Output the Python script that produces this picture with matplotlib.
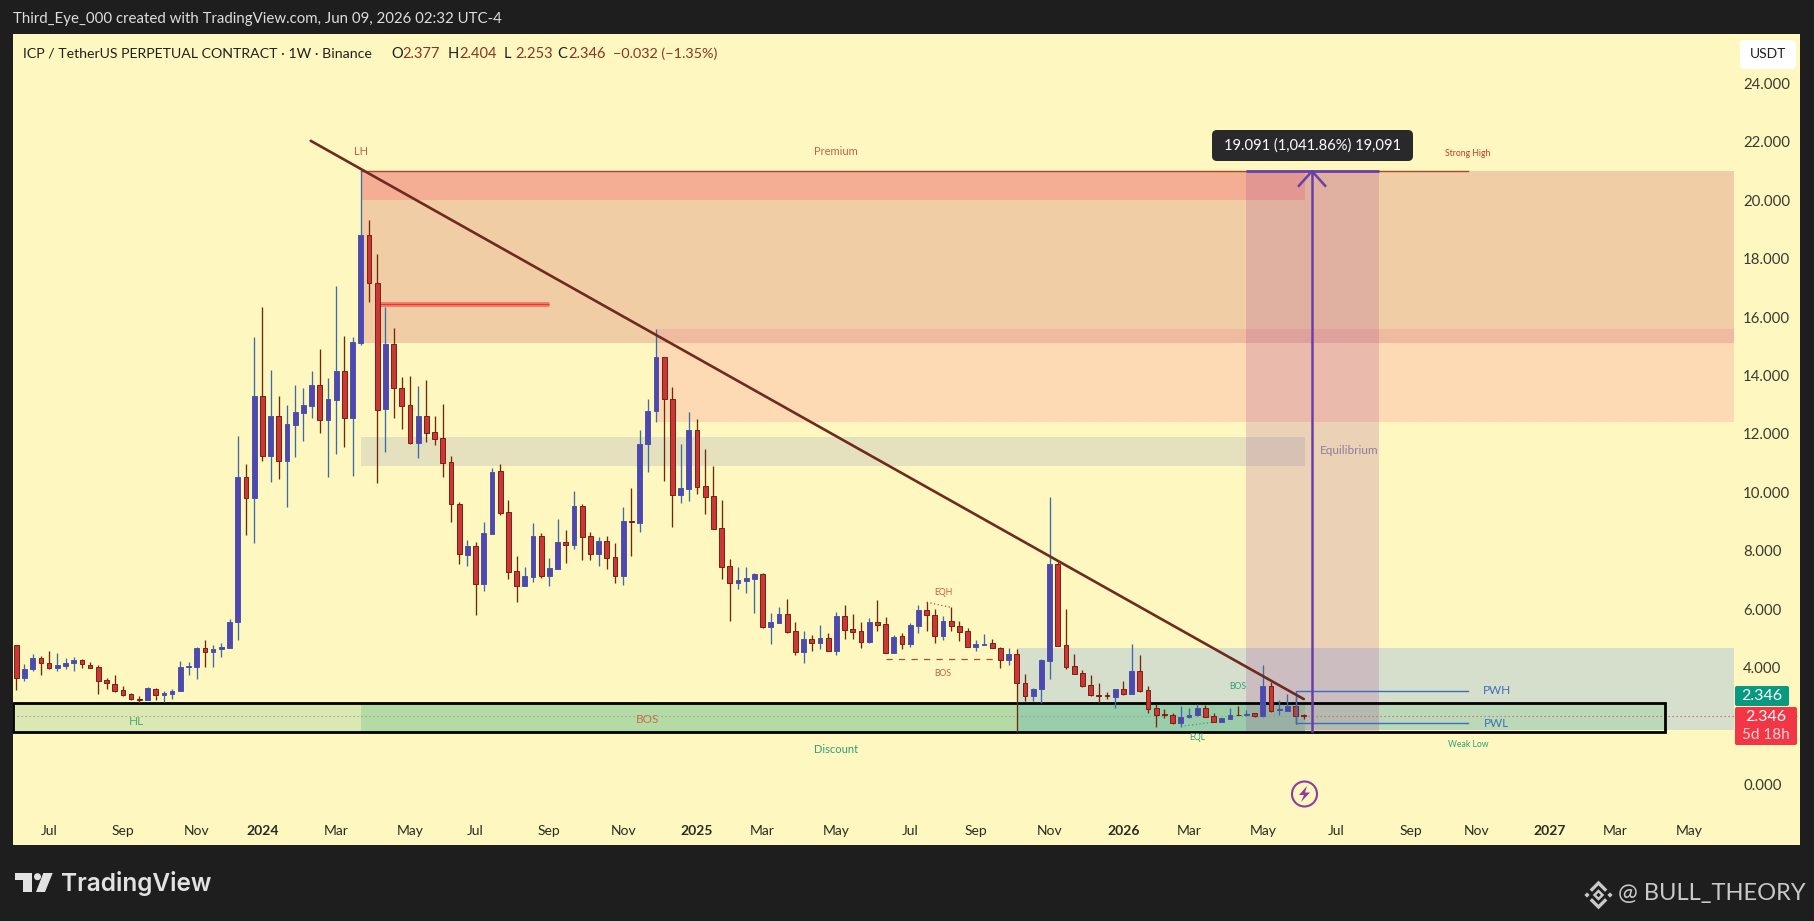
import matplotlib
matplotlib.use("Agg")
import matplotlib.pyplot as plt
from matplotlib.patches import FancyBboxPatch, Polygon, Circle, Rectangle

plt.rcParams['font.family'] = ['Lato', 'DejaVu Sans']

# ---------- candle data (prices, USDT) ----------
directions = ("RBBRRBBBRR" "RRRRRRBRBB" "BBBRBBBBRB" "RBRBBBBRBB" "RBBRRBRRRB" "RRRRRBRBBR"
              "RRBBRBBRBR" "RBRRBRBBBR" "RBBRRRRRBB" "BRBBRRBRBR" "BRRRBRRBRB" "BRRBRRRBBR"
              "RBRRBBBRRR" "RRRRBRBRRR" "RRBBBRRBBR" "BRBRBBRR")
highs = [4.77,4.14,4.46,4.40,4.57,4.49,4.32,4.37,4.28,4.20,
         4.10,3.66,3.74,3.37,3.12,3.03,3.32,3.31,3.21,3.27,
         4.22,4.20,4.71,4.94,4.77,4.85,5.65,11.93,10.97,15.31,
         16.35,14.19,13.30,12.99,13.68,13.56,14.16,14.91,13.90,17.07,
         15.35,15.31,21.02,19.33,18.16,16.36,15.62,13.94,13.98,13.64,
         13.85,12.61,13.03,11.24,9.68,8.37,8.31,9.00,10.82,10.97,
         9.74,7.82,7.46,8.94,8.62,7.74,9.09,8.71,10.05,9.60,
         8.63,8.46,8.51,8.26,9.51,10.14,12.14,13.20,15.60,14.62,
         13.60,11.66,12.75,12.50,11.48,10.92,9.74,7.71,7.46,7.46,
         7.25,7.23,5.88,6.06,6.35,5.56,5.27,5.12,5.46,5.20,
         5.92,6.14,5.84,5.56,5.69,6.32,5.72,5.12,5.17,5.53,
         6.16,6.24,5.99,5.76,6.06,5.59,5.34,4.94,5.15,4.97,
         4.69,4.68,4.65,3.78,3.29,4.31,9.83,7.62,5.99,4.46,
         3.91,3.76,3.46,3.17,3.25,3.54,4.80,4.43,3.37,2.75,
         2.57,2.43,2.68,2.60,2.75,2.71,2.43,2.29,2.60,2.68,
         2.54,2.45,4.08,3.51,2.89,3.09,2.98,2.404]
body_tops = [4.77,3.94,4.32,4.32,4.17,4.08,4.17,4.26,4.25,4.10,
             4.01,3.56,3.45,3.22,3.08,2.92,3.29,3.28,3.13,3.21,
             4.01,4.06,4.67,4.66,4.62,4.70,5.56,10.53,10.53,13.30,
             13.30,12.61,12.61,12.34,12.74,12.99,13.68,13.68,13.20,14.16,
             14.16,15.15,18.81,18.81,17.16,15.07,15.07,13.56,12.98,12.61,
             12.61,12.06,11.85,11.03,9.60,8.17,8.17,8.61,10.71,10.72,
             9.32,7.31,7.14,8.51,8.51,7.41,8.30,8.30,9.54,9.54,
             8.51,8.34,8.34,7.79,9.02,9.02,11.66,12.79,14.62,14.62,
             13.19,10.14,12.14,12.14,10.21,9.87,8.77,7.48,7.00,7.06,
             7.21,7.21,5.56,5.84,5.84,5.25,4.98,4.97,5.00,5.01,
             5.77,5.77,5.32,5.25,5.56,5.56,5.49,5.06,5.08,5.45,
             5.96,5.96,5.79,5.61,5.61,5.44,5.24,4.80,4.81,4.83,
             4.68,4.48,4.48,3.46,3.25,4.26,7.54,7.54,4.76,4.04,
             3.80,3.39,3.06,3.06,3.25,3.25,3.87,3.87,3.22,2.60,
             2.41,2.39,2.31,2.39,2.63,2.63,2.33,2.26,2.39,2.39,
             2.42,2.43,3.37,3.37,2.58,2.70,2.70,2.377]
body_bots = [3.63,3.63,3.94,4.17,4.00,4.00,4.06,4.17,4.11,4.00,
             3.55,3.46,3.21,3.07,2.91,2.90,2.90,3.05,3.07,3.10,
             3.21,4.01,4.03,4.54,4.54,4.62,4.68,5.55,9.80,9.80,
             11.26,11.26,11.09,11.09,12.32,12.73,12.97,12.49,12.49,13.17,
             12.56,12.56,15.12,17.16,12.83,12.87,13.56,12.97,11.70,11.70,
             12.04,11.83,11.02,9.59,7.88,7.87,6.87,6.87,8.59,9.31,
             7.29,6.81,6.81,7.11,7.14,7.14,7.39,8.20,8.20,8.48,
             7.89,7.89,7.77,7.15,7.15,9.00,8.96,11.64,12.77,13.19,
             9.90,9.90,10.13,10.20,9.85,8.76,7.46,6.91,6.91,6.98,
             7.05,5.40,5.40,5.54,5.22,4.53,4.53,4.85,4.85,4.58,
             4.58,5.30,5.23,4.89,4.89,5.47,4.51,4.51,4.81,4.81,
             5.43,5.79,5.09,5.09,5.44,5.23,4.71,4.71,4.79,4.68,
             4.27,4.27,3.46,3.03,3.03,3.25,4.23,4.75,4.03,3.79,
             3.37,3.05,3.03,3.03,3.00,3.10,3.10,3.21,2.59,2.38,
             2.37,2.11,2.11,2.31,2.36,2.31,2.14,2.14,2.25,2.37,
             2.38,2.33,2.33,2.52,2.54,2.52,2.35,2.346]
lows = [3.23,3.55,3.87,3.76,3.96,3.89,3.94,3.89,3.97,3.98,
        3.08,3.25,3.17,3.03,2.88,2.80,2.88,2.89,2.83,2.92,
        3.20,3.74,3.60,4.03,4.03,4.35,4.67,4.94,8.54,8.28,
        11.09,10.34,10.47,9.51,11.22,11.77,12.56,12.04,10.54,11.32,
        11.56,10.57,15.06,16.52,10.31,11.39,12.56,12.17,11.64,11.19,
        11.74,11.62,10.53,9.00,7.55,7.49,5.80,6.62,8.58,9.23,
        7.05,6.25,6.79,6.94,7.08,6.81,7.38,7.57,8.06,7.69,
        7.69,7.49,7.37,6.90,6.83,7.82,8.66,10.70,12.42,10.39,
        8.83,9.65,9.72,9.95,9.26,8.75,7.05,5.61,6.70,6.57,
        5.88,5.35,4.81,5.53,5.20,4.44,4.17,4.58,4.64,4.57,
        4.44,4.98,4.98,4.68,4.83,5.27,4.49,4.49,4.65,4.72,
        5.19,5.25,4.85,4.94,5.26,4.91,4.70,4.58,4.77,4.67,
        3.99,4.10,1.80,2.85,2.86,2.79,3.62,4.73,3.95,3.78,
        3.32,3.03,2.79,2.91,2.63,3.06,3.09,3.16,2.45,1.97,
        2.27,2.06,1.97,2.29,2.34,2.30,2.13,2.13,2.23,2.36,
        2.34,2.31,2.31,2.49,2.37,2.51,2.08,2.253]

# ---------- axes labels ----------
x_ticks = [4,13,22,30,39,48,56,65,74,83,91,100,109,117,126,135,143,152,161,170,178,187,195,204]
x_labels = ["Jul","Sep","Nov","2024","Mar","May","Jul","Sep","Nov","2025","Mar","May","Jul","Sep",
            "Nov","2026","Mar","May","Jul","Sep","Nov","2027","Mar","May"]
y_ticks = [0,4,6,8,10,12,14,16,18,20,22,24]

# ---------- drawing levels ----------
last_price = 2.346
high_level = 21.0
premium_low, premium_inner, premium_mid, premium_floor = 15.1, 20.0, 15.6, 12.42
eq_low, eq_high = 10.9, 11.9
box_low, box_high = 1.80, 2.80
disc_low, disc_high = 1.86, 4.67
measure_low = 1.83
trend_x, trend_y = [35.9, 157.0], [22.04, 2.92]
pwh, pwl = 3.20, 2.09

fig = plt.figure(figsize=(18.14, 9.21), dpi=100, facecolor="#1E1E1E")
ax = fig.add_axes([13/1814, (921-845)/921, 1787/1814, 810.5/921], facecolor="#FEF8C0")
ax.set_xlim(-0.402, 217.5)
ax.set_ylim(-2.075, 25.68)
for s in ax.spines.values():
    s.set_visible(False)

# zones
R_EDGE = 209.5
BOX_END = 201.0
def zone(x0, x1, y0, y1, c, a=1.0, z=1):
    ax.add_patch(Rectangle((x0, y0), x1-x0, y1-y0, facecolor=c, alpha=a, edgecolor="none", zorder=z))

zone(42, R_EDGE, premium_low, high_level, "#F0CDA5")
zone(78, R_EDGE, premium_floor, premium_low, "#FDDAB3")
zone(78, R_EDGE, premium_low, premium_mid, "#EFBBA0")
zone(42, 157.2, premium_inner, high_level, "#F3AE94")
zone(42, 157.2, eq_low, eq_high, "#E5E1BE")
zone(122, R_EDGE, disc_low, disc_high, "#D6DECC")
zone(-0.402, 42, box_low, box_high, "#DCE8B3")
zone(42, 122, box_low, box_high, "#B4DBA5")
zone(122, 157.2, box_low, box_high, "#9ACDAA")
zone(157.2, BOX_END, disc_low, box_high, "#BBD9B9")
zone(150, 166.2, measure_low, high_level, "#A03C90", a=0.2, z=1.5)

# price dotted line
ax.plot([-0.402, 157], [last_price]*2, color="#8FA08A", lw=0.9, ls=(0, (1, 2.2)), zorder=2)
ax.plot([157, 217.5], [last_price]*2, color="#C76A6A", lw=0.9, ls=(0, (1, 2.2)), zorder=2)

# black box
ax.add_patch(Rectangle((-0.402, box_low), 201.4, box_high-box_low, fill=False, edgecolor="#000000", lw=2.0, zorder=2.6))

# high line + red line
ax.plot([42, 177], [high_level]*2, color="#A5472F", lw=1.0, zorder=2)
ax.plot([44.3, 65], [16.45]*2, color="#F47F6C", lw=3.6, solid_capstyle="butt", zorder=2)
ax.plot([44.3, 65], [16.45]*2, color="#E5392F", lw=0.9, solid_capstyle="butt", zorder=2.1)

# candles
for i, d in enumerate(directions):
    up = d == "B"
    ax.vlines(i, lows[i], highs[i], color="#3F6AA8" if up else "#6E2A0A", lw=0.95, zorder=3)
    ax.bar(i, body_tops[i]-body_bots[i], bottom=body_bots[i], width=0.58,
           color="#4F47B2" if up else "#C93737",
           edgecolor="#4A55A8" if up else "#7C1F12", lw=0.7, zorder=3.1)

# trend line
ax.plot(trend_x, trend_y, color="#6E2A1E", lw=1.9, zorder=4, solid_capstyle="round")

# BOS / EQ dashes
ax.plot([106, 120], [4.28]*2, color="#A84F38", lw=0.9, ls=(0, (5, 5)), zorder=2.8)
ax.plot([111, 114], [6.24, 6.06], color="#A84F38", lw=0.9, ls=(0, (1, 2)), zorder=2.8)
ax.plot([142, 146], [1.99, 2.13], color="#3A9E80", lw=0.9, ls=(0, (1, 2)), zorder=2.8)
# PWH/PWL
ax.plot([177, 156, 156, 177], [pwh, pwh, pwl, pwl], color="#3B6FBE", lw=1.0, zorder=3.2)

# measure tool
ax.plot([150, 166.2], [high_level]*2, color="#6A3FA8", lw=2.0, zorder=4.2, solid_capstyle="butt")
ax.plot([158, 158], [measure_low, high_level], color="#6A3FA8", lw=1.8, zorder=4.2)
ax.plot([156.4, 158, 159.6], [20.5, high_level, 20.5], color="#6A3FA8", lw=1.8, zorder=4.2)

# annotations
def note(x, y, s, c, fs=7.0, **kw):
    ax.text(x, y, s, color=c, fontsize=fs, ha="center", va="center", zorder=5, **kw)
RED = "#C4604E"; TEAL = "#2E9E80"; BLUE = "#3F6FB5"
note(42, 21.67, "LH", RED, 8)
note(99.9, 21.67, "Premium", RED, 8)
note(177, 21.6, "Strong High", "#C0392B", 6.2)
note(113, 6.58, "EQH", RED, 6.2)
note(113, 3.80, "BOS", RED, 6.2)
note(14.7, 2.17, "HL", "#48B070", 8.5)
note(77, 2.21, "BOS", "#C2704F", 8.5)
note(99.9, 1.19, "Discount", TEAL, 8)
note(144, 1.6, "EQL", TEAL, 6.2)
note(149, 3.34, "BOS", TEAL, 6.2)
note(177, 1.35, "Weak Low", TEAL, 6.2)
note(180.5, 3.21, "PWH", BLUE, 8.5)
note(180.5, 2.07, "PWL", BLUE, 8.5)
note(162.5, 11.45, "Equilibrium", "#8E7E9C", 8.5)

# axes ticks inside the panel
ax.set_xticks(x_ticks)
ax.set_xticklabels(x_labels, fontsize=10, color="#2A2A20")
for lab in ax.get_xticklabels():
    if lab.get_text().isdigit():
        lab.set_fontweight("bold")
ax.tick_params(axis="x", length=0, pad=-14.6)
ax.yaxis.tick_right()
ax.set_yticks(y_ticks)
ax.set_yticklabels([f"{v:.3f}" for v in y_ticks], fontsize=10.8, color="#3A3A30")
ax.tick_params(axis="y", length=0, pad=-41)

# ---------- overlay (pixel space chrome) ----------
ov = fig.add_axes([0, 0, 1, 1], facecolor="none")
ov.set_xlim(0, 1814); ov.set_ylim(921, 0); ov.axis("off")

ov.text(13, 19.5, "Third_Eye_000 created with TradingView.com, Jun 09, 2026 02:32 UTC-4", color="#DDDDDD", fontsize=10.8, va="center")
DK = "#1F1F1F"; VAL = "#8A3324"
ov.text(23, 53.5, "ICP / TetherUS PERPETUAL CONTRACT · 1W · Binance", color=DK, fontsize=10.2, va="center")
for x0, a, b in [(391.6, "O", "2.377"), (448, "H", "2.404"), (504, "L", "2.253"), (557, "C", "2.346")]:
    ov.text(x0, 53.5, a, color=DK, fontsize=10.5, va="center")
    ov.text(x0+11, 53.5, b, color=VAL, fontsize=10.5, va="center")
ov.text(613, 53.5, "−0.032 (−1.35%)", color=VAL, fontsize=10.4, va="center")

# USDT button
ov.add_patch(FancyBboxPatch((1743, 43), 50, 23, boxstyle="round,pad=3,rounding_size=4", fc="#FFFFFF", ec="none"))
ov.text(1768, 54.5, "USDT", color="#1F1F1F", fontsize=10, ha="center", va="center")

# price tags
ov.add_patch(FancyBboxPatch((1736, 687), 52, 18, boxstyle="round,pad=1,rounding_size=2", fc="#089981", ec="none"))
ov.text(1762, 696, "2.346", color="white", fontsize=11.5, ha="center", va="center")
ov.add_patch(FancyBboxPatch((1736, 708), 60, 36, boxstyle="round,pad=1,rounding_size=2", fc="#F23645", ec="none"))
ov.text(1766, 717, "2.346", color="white", fontsize=11.5, ha="center", va="center")
ov.text(1766, 735, "5d 18h", color="#FBD5D8", fontsize=11, ha="center", va="center")

# tooltip
ov.add_patch(FancyBboxPatch((1216, 134), 193, 23, boxstyle="round,pad=4,rounding_size=5", fc="#29292C", ec="none"))
ov.text(1312.5, 145.5, "19.091 (1,041.86%) 19,091", color="white", fontsize=10.6, ha="center", va="center")

# bolt badge
ov.add_patch(Circle((1304.5, 794), 12.5, fc="#FEF8C0", ec="#8E3A9E", lw=1.5))
ov.add_patch(Polygon([(1307, 786), (1299, 795), (1304, 795), (1301, 802), (1310, 792.5), (1305, 792.5)], fc="#8E3A9E", ec="none"))

# TradingView logo
LG = "#E2E2E2"
ov.add_patch(Polygon([(15, 873), (32, 873), (32, 892), (23, 892), (23, 880), (15, 880)], fc=LG, ec="none"))
ov.add_patch(Circle((37.5, 876.7), 3.5, fc=LG, ec="none"))
ov.add_patch(Polygon([(43.3, 873), (52.7, 873), (45, 892), (36, 892)], fc=LG, ec="none"))
ov.text(61, 883, "TradingView", color=LG, fontsize=17.6, fontweight="semibold", family="Inter", va="center")

# Binance mark + credit
cx, cy = 1598.5, 895
GR = "#C9C9C9"
ov.plot([cx-6.5, cx, cx+6.5], [cy-5.5, cy-12, cy-5.5], color=GR, lw=2.4, solid_joinstyle="miter")
ov.plot([cx-6.5, cx, cx+6.5], [cy+5.5, cy+12, cy+5.5], color=GR, lw=2.4, solid_joinstyle="miter")
for dx in (-11.5, 11.5):
    ov.add_patch(Polygon([(cx+dx, cy-2.6), (cx+dx+2.6, cy), (cx+dx, cy+2.6), (cx+dx-2.6, cy)], fc=GR, ec="none"))
ov.add_patch(Polygon([(cx, cy-4), (cx+4, cy), (cx, cy+4), (cx-4, cy)], fc="none", ec=GR, lw=1.8))
ov.set_xlim(0, 1814); ov.set_ylim(921, 0)
ov.text(1618, 893, "@ BULL_THEORY", color="#C9C9C9", fontsize=17, va="center")

fig.savefig("out.png", dpi=100, facecolor=fig.get_facecolor())
